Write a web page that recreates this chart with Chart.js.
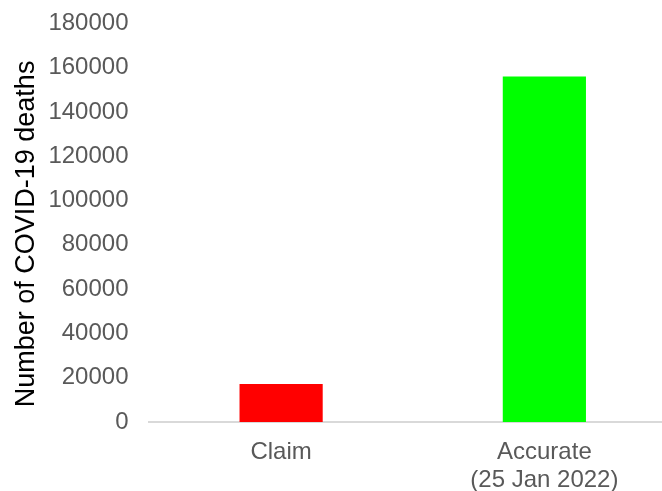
<!DOCTYPE html>
<html>
<head>
<meta charset="utf-8">
<script src="https://cdn.jsdelivr.net/npm/chart.js@4"></script>
<style>
    html, body { margin: 0; padding: 0; background: #ffffff; overflow: hidden; }
    #wrap { width: 676px; height: 522px; margin-top: -12px; position: relative; }
</style>
</head>
<body>
<div id="wrap"><canvas id="deathsChart"></canvas></div>
<script>
/* ==========================================
   DATA
========================================== */

const categories = ["Claim", ["Accurate", "(25 Jan 2022)"]];
const deaths = [17200, 156000];
const barColors = ["#FF0000", "#00FF00"];

const yMin = 0;
const yMax = 180000;
const yStep = 20000;

/* ==========================================
   CHART
========================================== */

Chart.defaults.font.family = "'Liberation Sans', Arial, sans-serif";

new Chart(document.getElementById("deathsChart"), {
    type: "bar",

    data: {
        labels: categories,
        datasets: [{
            data: deaths,
            backgroundColor: barColors,
            borderWidth: 0,
            categoryPercentage: 1,
            barPercentage: 0.316
        }]
    },

    options: {
        responsive: true,
        maintainAspectRatio: false,
        animation: false,

        layout: {
            padding: { left: 10, top: 10, right: 0, bottom: 0 }
        },

        plugins: {
            legend: { display: false },
            tooltip: { enabled: false }
        },

        scales: {
            x: {
                grid: { display: false, drawTicks: false },
                border: { display: true, color: "#D9D9D9", width: 2 },
                ticks: {
                    color: "#595959",
                    font: { size: 24, lineHeight: 1.167 },
                    padding: 16,
                    maxRotation: 0
                }
            },
            y: {
                min: yMin,
                max: yMax,
                grid: { display: false, drawTicks: false },
                border: { display: false },
                ticks: {
                    stepSize: yStep,
                    color: "#595959",
                    font: { size: 24 },
                    padding: 21,
                    callback: value => String(value)
                },
                title: {
                    display: true,
                    // trailing spaces nudge the rotated title a little lower, as in the original
                    text: "Number of COVID-19 deaths   ",
                    color: "#000000",
                    font: { size: 27, lineHeight: 1.2 },
                    padding: { top: 0, bottom: -15 }
                }
            }
        }
    }
});
</script>
</body>
</html>
